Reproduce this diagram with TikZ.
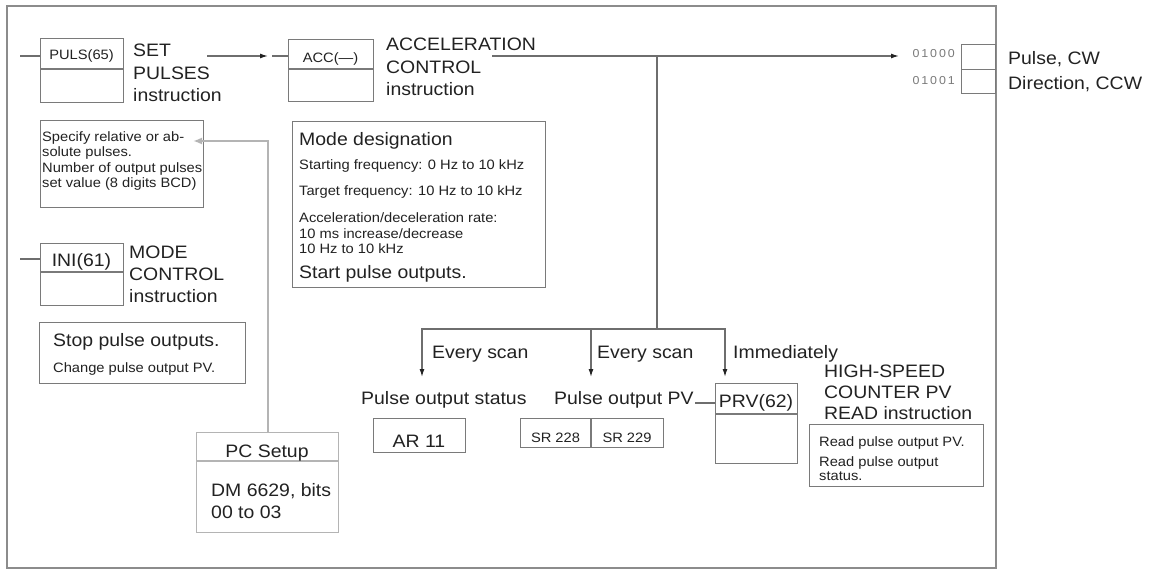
\documentclass[tikz,border=0pt]{standalone}
\usepackage{fontspec}
\setmainfont{Liberation Sans}[FakeStretch=1.08]
\usetikzlibrary{arrows.meta}
\definecolor{ink}{HTML}{222222}
\definecolor{ln}{HTML}{6E6E6E}
\definecolor{bx}{HTML}{7A7A7A}
\definecolor{feedc}{HTML}{B4B4B4}
\definecolor{frm}{HTML}{8C8C8C}
\definecolor{dig}{HTML}{7A7A7A}
\newcommand\fontL{\fontsize{18}{22.5}\selectfont}
\newcommand\fontS{\fontsize{13.6}{15.5}\selectfont}
\newcommand\fontD{\fontsize{11.5}{13}\selectfont}
\begin{document}
\begin{tikzpicture}[x=1pt,y=-1pt,
 txt/.style={inner sep=0pt, anchor=base west, align=left, text=ink},
 big/.style={txt, font=\fontL},
 small/.style={txt, font=\fontS},
 digits/.style={inner sep=0pt, anchor=base east, text=dig, font=\fontD},
 box/.style={draw=bx, line width=1.3pt, anchor=north west, inner sep=0pt},
 lightbox/.style={box, draw=feedc},
 wire/.style={draw=ln, line width=1.3pt},
 arr/.style={wire, -{Latex[length=8pt,width=5pt,color=ink]}},
 feed/.style={draw=feedc, line width=2pt, -{Latex[length=9pt,width=7pt]}},
]
\useasboundingbox (0,0) rectangle (1154,569);
\fill[white] (0,0) rectangle (1154,569);
\node[box, draw=frm, line width=1.8pt, minimum width=989pt, minimum height=562pt] (frame) at (6,5) {};

% ---- PULS(65)
\node[box, minimum width=83pt, minimum height=64pt] (puls) at (40,38) {};
\draw[wire, draw=bx] (puls.west |- 0,69) -- (puls.east |- 0,69);
\node[small, anchor=base] (pulslbl) at (81.5,60) {PULS(65)};
\node[big] (putext) at (133,102) {SET\\PULSES\\instruction};
\coordinate (pulsin) at (20,56);
\draw[wire] (pulsin) -- (pulsin -| puls.west);

% ---- info box
\node[box, minimum width=163pt, minimum height=87pt] (info) at (40,120) {};
\node[small] (infotext) at (42,188) {Specify relative or ab-\\solute pulses.\\Number of output pulses\\set value (8 digits BCD)};

% ---- ACC
\node[box, minimum width=85pt, minimum height=62pt] (acc) at (288,39) {};
\draw[wire, draw=bx] (acc.west |- 0,69) -- (acc.east |- 0,69);
\node[small, anchor=base] (acclbl) at (330.5,63) {ACC(—)};
\node[big] (acctext) at (386,96) {ACCELERATION\\CONTROL\\instruction};
\coordinate (pa) at (207,56);
\coordinate (pb) at (268,56);
\coordinate (accin) at (272,56);
\draw[arr] (pa) -- (pb);
\draw[wire] (accin) -- (accin -| acc.west);

% ---- mode box
\node[box, minimum width=253pt, minimum height=166pt] (mode) at (292,121) {};
\node[big] (modet) at (299,146) {Mode designation};
\node[small] (startf) at (299,170) {Starting frequency: 0 Hz to 10 kHz};
\node[small] (targf) at (299,196) {Target frequency: 10 Hz to 10 kHz};
\node[small] (accel) at (299,254) {Acceleration/deceleration rate:\\10 ms increase/decrease\\10 Hz to 10 kHz};
\node[big] (startp) at (299,279) {Start pulse outputs.};

% ---- INI
\node[box, minimum width=83pt, minimum height=62pt] (ini) at (40,243) {};
\draw[wire, draw=bx] (ini.west |- 0,272) -- (ini.east |- 0,272);
\node[big, anchor=base] (inilbl) at (81.5,267) {INI(61)};
\node[big, font=\fontsize{18}{22}\selectfont] (initext) at (129,303) {MODE\\CONTROL\\instruction};
\coordinate (iniin) at (20,259);
\draw[wire] (iniin) -- (iniin -| ini.west);

\node[box, minimum width=206pt, minimum height=61pt] (stop) at (39,322) {};
\node[big] (stopt) at (53,347) {Stop pulse outputs.};
\node[small] (chg) at (53,372) {Change pulse output PV.};

% ---- PC Setup
\node[lightbox, minimum width=142pt, minimum height=100pt] (pcs) at (196,432) {};
\draw[draw=feedc, line width=1.3pt] (pcs.west |- 0,461) -- (pcs.east |- 0,461);
\node[big, anchor=base] (pcslbl) at (267,457) {PC Setup};
\node[big, font=\fontsize{18}{22}\selectfont] (dm) at (211,518) {DM 6629, bits\\00 to 03};
\coordinate (feedtip) at (193,141);
\draw[feed] (pcs.north) |- (feedtip);

% ---- outputs
\node[box, minimum width=34pt, minimum height=25pt] (o1) at (961,44) {};
\node[box, minimum width=34pt, minimum height=24pt] (o2) at (961,69) {};
\node[digits] (d1) at (955,58) {0\,1\,0\,0\,0};
\node[digits] (d2) at (955,85) {0\,1\,0\,0\,1};
\node[big] (cw) at (1008,65) {Pulse, CW};
\node[big] (ccw) at (1008,90) {Direction, CCW};

% ---- main output line and branches
\coordinate (accout) at (492,56);
\coordinate (outtip) at (899,56);
\coordinate (j) at (657,56);
\coordinate (jb) at (657,329);
\coordinate (t1) at (422,377);
\coordinate (t2) at (591,377);
\coordinate (t3) at (725,377);
\draw[arr] (accout) -- (outtip);
\draw[wire] (j) -- (jb);
\draw[arr] (jb) -| (t1);
\draw[arr] (jb) -| (t2);
\draw[arr] (jb) -| (t3);
\node[big] (ev1) at (432,358) {Every scan};
\node[big] (ev2) at (597,358) {Every scan};
\node[big] (imm) at (733,358) {Immediately};

\node[big] (pst) at (361,404) {Pulse output status};
\node[big] (ppv) at (554,404) {Pulse output PV};

\node[box, minimum width=92pt, minimum height=34pt] (ar) at (373,418) {};
\node[big, anchor=base] (arlbl) at (419,447) {AR 11};

\node[box, minimum width=143pt, minimum height=29pt] (sr) at (520,418) {};
\draw[wire, draw=bx] (591,418) -- (591,447);
\node[small, anchor=base] (sr1) at (555.5,442) {SR 228};
\node[small, anchor=base] (sr2) at (627,442) {SR 229};

% ---- PRV
\node[box, minimum width=82pt, minimum height=80pt] (prv) at (715,383) {};
\draw[wire, draw=bx] (prv.west |- 0,414) -- (prv.east |- 0,414);
\node[big, anchor=base] (prvlbl) at (756,407) {PRV(62)};
\coordinate (pvout) at (695,403);
\draw[wire] (pvout) -- (pvout -| prv.west);
\node[big, font=\fontsize{18}{21}\selectfont] (prvtext) at (824,419) {HIGH-SPEED\\COUNTER PV\\READ instruction};

\node[box, minimum width=174pt, minimum height=62pt] (rd) at (809,424) {};
\node[small] (rd1) at (819,446) {Read pulse output PV.};
\node[small, font=\fontsize{13.6}{14}\selectfont] (rd2) at (819,480) {Read pulse output\\status.};
\end{tikzpicture}
\end{document}
